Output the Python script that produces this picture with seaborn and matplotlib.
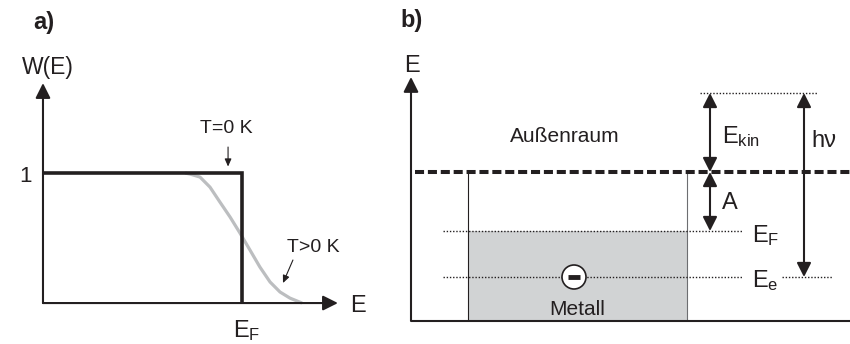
import matplotlib
matplotlib.use("Agg")
import matplotlib.pyplot as plt
import seaborn as sns
import pandas as pd
from matplotlib.patches import FancyArrowPatch, Rectangle, Circle, ArrowStyle

sns.set_theme(style="white")
plt.rcParams['font.family'] = ['Liberation Sans', 'DejaVu Sans']
plt.rcParams['mathtext.fontset'] = 'custom'
plt.rcParams['mathtext.rm'] = 'Liberation Sans'
plt.rcParams['mathtext.it'] = 'Liberation Sans'

# ---------------- data: panel a (Fermi-Dirac occupation) ----------------
step_E = [0.0, 1.0, 1.0]          # T = 0 K
step_W = [1.0, 1.0, 0.0]
fermi_E = [0.714, 0.739, 0.789, 0.839, 0.889, 0.940, 0.990, 1.040,
           1.090, 1.141, 1.191, 1.241, 1.302]   # T > 0 K
fermi_W = [1.000, 0.992, 0.969, 0.892, 0.777, 0.662, 0.538, 0.408,
           0.277, 0.162, 0.085, 0.038, 0.000]

# ---------------- data: panel b (energy levels) ----------------
level_Ee = 4.4
level_EF = 9.0
level_vac = 14.9
level_top = 22.8

BLACK = "#231f20"
GREY_LINE = "#bcbec0"
GREY_FILL = "#d1d3d4"

W_PX, H_PX = 850, 344
fig = plt.figure(figsize=(W_PX / 100, H_PX / 100), dpi=100)
fig.patch.set_facecolor("white")

# ======================= panel a =======================
axa = fig.add_axes([0, 0, 400 / W_PX, 1])
axa.set_xlim(-0.216, 1.794)
axa.set_ylim(-0.315, 2.331)
axa.axis("off")

df_f = pd.DataFrame({"E": fermi_E, "W": fermi_W})
sns.lineplot(data=df_f, x="E", y="W", ax=axa, color=GREY_LINE, lw=2.3,
             sort=False, estimator=None, zorder=2)
df_s = pd.DataFrame({"E": step_E, "W": step_W})
sns.lineplot(data=df_s, x="E", y="W", ax=axa, color=BLACK, lw=2.6,
             sort=False, estimator=None, zorder=3)
for ln in axa.lines:
    ln.set_solid_capstyle("butt")
    ln.set_solid_joinstyle("miter")
axa.lines[0].set_solid_joinstyle("round")

ax_head = ArrowStyle("-|>", head_length=9, head_width=4.5)
# axes arrows
axa.add_patch(FancyArrowPatch((0, 0), (1.482, 0), arrowstyle=ax_head,
                              mutation_scale=1, lw=1.5, color=BLACK,
                              shrinkA=0, shrinkB=0, zorder=4))
axa.add_patch(FancyArrowPatch((0, 0), (0, 1.692), arrowstyle=ax_head,
                              mutation_scale=1, lw=1.5, color=BLACK,
                              shrinkA=0, shrinkB=0, zorder=4))
small_head = ArrowStyle("-|>", head_length=4.5, head_width=2)
axa.add_patch(FancyArrowPatch((0.93, 1.20), (0.93, 1.05), arrowstyle=small_head,
                              mutation_scale=1, lw=0.8, color=BLACK,
                              shrinkA=0, shrinkB=0))
axa.add_patch(FancyArrowPatch((1.256, 0.331), (1.206, 0.154), arrowstyle=small_head,
                              mutation_scale=1, lw=0.8, color=BLACK,
                              shrinkA=0, shrinkB=0))

fs = 15
axa.text(-0.05, 2.11, "a)", fontsize=17, fontweight="bold", ha="left",
         va="baseline", color=BLACK)
axa.text(0.0226, 1.76, "W(E)", fontsize=16.5, ha="center", va="baseline", color=BLACK)
axa.text(-0.055, 0.93, "1", fontsize=16, ha="right", va="baseline", color=BLACK)
axa.text(0.923, 1.308, "T=0 K", fontsize=14, ha="center", va="baseline", color=BLACK)
axa.text(1.357, 0.392, "T>0 K", fontsize=14, ha="center", va="baseline", color=BLACK)
axa.text(1.543, -0.069, "E", fontsize=17, ha="left", va="baseline", color=BLACK)
axa.text(0.955, -0.259, r"$\mathregular{E_F}$", fontsize=17, ha="left",
         va="baseline", color=BLACK)

# ======================= panel b =======================
axb = fig.add_axes([400 / W_PX, 0, 450 / W_PX, 1])
axb.set_xlim(-1.1, 43.9)
axb.set_ylim(-2.3, 32.1)
axb.axis("off")

metal_x0, metal_x1 = 5.7, 27.6
axb.add_patch(Rectangle((metal_x0, 0), metal_x1 - metal_x0, level_EF,
                        facecolor=GREY_FILL, edgecolor="none", zorder=1))
axb.plot([metal_x0, metal_x0], [0, level_vac], color=BLACK, lw=0.8, zorder=2)
axb.plot([metal_x1, metal_x1], [0, level_vac], color="#6d6e71", lw=0.8, zorder=2)

# axes
axb.plot([0, 43.9], [0, 0], color=BLACK, lw=1.5, zorder=4, solid_capstyle="butt")
axb.add_patch(FancyArrowPatch((0, 0), (0, 24.4), arrowstyle=ax_head,
                              mutation_scale=1, lw=1.5, color=BLACK,
                              shrinkA=0, shrinkB=0, zorder=4))

dot = dict(color=BLACK, lw=1.0, linestyle=(0, (1, 1.3)), zorder=3)
axb.plot([3.2, 33.2], [level_EF, level_EF], **dot)
axb.plot([3.2, 33.2], [level_Ee, level_Ee], **dot)
axb.plot([37.1, 42.2], [level_Ee, level_Ee], **dot)
axb.plot([28.9, 40.6], [level_top, level_top], **dot)

# vacuum level (dashed)
axb.plot([0.4, 43.9], [level_vac, level_vac], color=BLACK, lw=2.9,
         linestyle=(0, (2.25, 0.95)), dash_capstyle="butt", zorder=5)

dbl = ArrowStyle("<|-|>", head_length=8.5, head_width=4.3)
for (x, y0, y1) in [(29.9, level_vac, level_top), (29.9, level_EF, level_vac),
                    (39.3, level_Ee, level_top)]:
    axb.add_patch(FancyArrowPatch((x, y0), (x, y1), arrowstyle=dbl,
                                  mutation_scale=1, lw=1.5, color=BLACK,
                                  shrinkA=0, shrinkB=0, zorder=6))

# electron
ex = 16.3
axb.add_patch(Circle((ex, level_Ee), 1.2, facecolor="white", edgecolor=BLACK,
                     lw=1.2, zorder=7))
axb.plot([ex - 0.6, ex + 0.6], [level_Ee, level_Ee], color=BLACK, lw=3.5,
         solid_capstyle="butt", zorder=8)

axb.text(-1.1, 29.4, "b)", fontsize=17, fontweight="bold", ha="left",
         va="baseline", color=BLACK)
axb.text(0.15, 24.9, "E", fontsize=17, ha="center", va="baseline", color=BLACK)
axb.text(15.4, 17.93, "Außenraum", fontsize=fs, ha="center", va="baseline", color=BLACK)
axb.text(31.07, 17.8, r"$\mathregular{E_{kin}}$", fontsize=17, ha="left",
         va="baseline", color=BLACK)
axb.text(40.07, 17.43, "hν", fontsize=17, ha="left", va="baseline", color=BLACK)
axb.text(31.07, 11.17, "A", fontsize=17, ha="left", va="baseline", color=BLACK)
axb.text(34.07, 7.93, r"$\mathregular{E_F}$", fontsize=17, ha="left",
         va="baseline", color=BLACK)
axb.text(34.07, 3.43, r"$\mathregular{E_e}$", fontsize=17, ha="left",
         va="baseline", color=BLACK)
axb.text(16.57, 0.6, "Metall", fontsize=fs, ha="center", va="baseline", color=BLACK)

fig.savefig("out.png", dpi=100, facecolor="white")
